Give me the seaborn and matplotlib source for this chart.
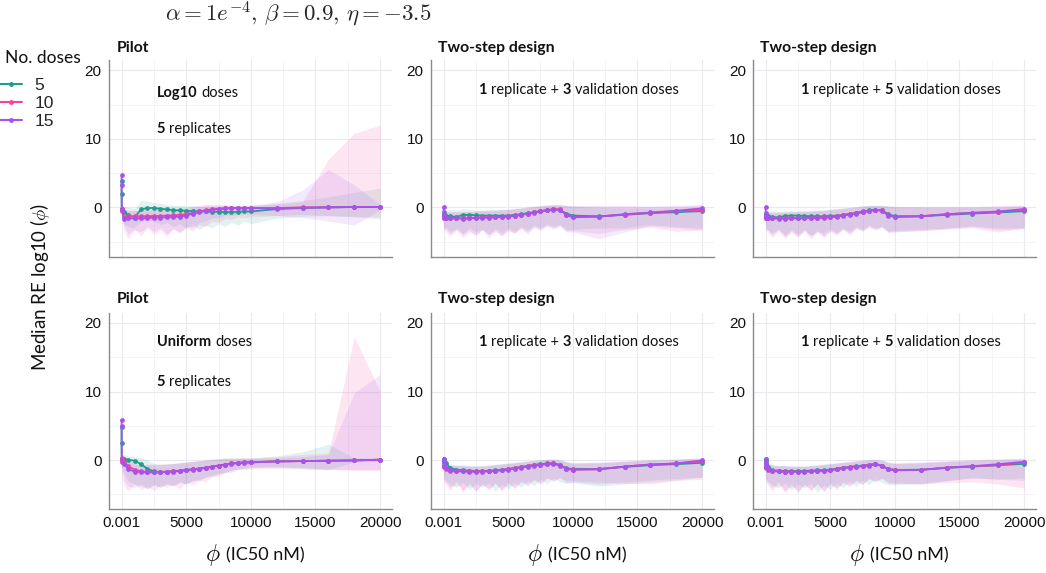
import numpy as np
import pandas as pd
import matplotlib
matplotlib.use("Agg")
import matplotlib.pyplot as plt
from matplotlib.lines import Line2D
import seaborn as sns

# IC50 grid (nM), shared by every panel
phi = [0.001, 0.1, 10, 200, 500, 1000, 1500, 2000, 2500, 3000, 3500, 4000, 4500, 5000, 5500,
       6000, 6500, 7000, 7500, 8000, 8500, 9000, 9500, 10000, 12000, 14000, 16000, 18000, 20000]
doses = ["5", "10", "15"]
colors = ["#1f9e8e", "#f2449a", "#a552ef"]

# ---- Pilot, log10 doses ----
log_pilot_5 = [3.9, 2.0, -0.3, -0.7, -1.1, -1.5, -0.3, -0.1, -0.1, -0.2, -0.3, -0.4, -0.45, -0.5, -0.55,
               -0.6, -0.6, -0.65, -0.65, -0.7, -0.7, -0.65, -0.6, -0.6, -0.25, -0.1, 0.0, 0.05, 0.05]
log_pilot_10 = [-0.3, -0.4, -0.5, -1.4, -1.3, -1.3, -1.3, -1.3, -1.25, -1.25, -1.2, -1.15, -1.1, -1.0, -0.8,
                -0.6, -0.4, -0.3, -0.2, -0.15, -0.1, -0.1, -0.1, -0.1, -0.1, 0.0, 0.0, 0.05, 0.05]
log_pilot_15 = [4.7, 3.3, -0.3, -1.7, -1.6, -1.6, -1.6, -1.55, -1.5, -1.5, -1.45, -1.4, -1.35, -1.2, -0.9,
                -0.7, -0.5, -0.35, -0.25, -0.15, -0.1, -0.1, -0.1, -0.1, -0.15, -0.05, 0.0, 0.05, 0.05]
log_pilot_5_lo = [-0.6, -0.8, -1.5, -2.5, -2.8, -3.0, -2.0, -1.8, -2.0, -2.5, -2.2, -2.8, -2.4, -3.0, -2.5,
                  -3.2, -2.6, -3.0, -2.4, -2.8, -2.2, -2.6, -2.0, -2.4, -1.6, -1.3, -1.2, -1.4, -1.7]
log_pilot_5_hi = [4.5, 2.6, 0.3, 0.2, 0.0, -0.2, 1.0, 0.9, 0.7, 0.6, 0.4, 0.3, 0.3, 0.2, 0.2,
                  0.1, 0.1, 0.1, 0.1, 0.1, 0.1, 0.1, 0.1, 0.2, 0.6, 1.0, 1.5, 2.2, 2.8]
log_pilot_10_lo = [-1.0, -1.0, -1.5, -3.5, -4.6, -3.2, -4.2, -3.0, -4.0, -3.3, -4.3, -3.0, -3.8, -3.0, -3.5,
                   -2.5, -2.8, -2.0, -2.2, -1.6, -1.8, -1.4, -1.5, -1.4, -1.2, -1.0, -1.2, -1.3, -1.4]
log_pilot_10_hi = [0.2, 0.1, 0.0, -0.3, -0.5, -0.4, -0.5, -0.4, -0.4, -0.4, -0.3, -0.3, -0.3, -0.2, 0.0,
                   0.1, 0.3, 0.3, 0.3, 0.3, 0.3, 0.3, 0.3, 0.3, 0.5, 0.8, 7.0, 10.8, 12.0]
log_pilot_15_lo = [2.5, 1.5, -0.8, -3.0, -3.8, -3.3, -3.6, -2.8, -3.5, -3.0, -3.8, -3.2, -3.6, -2.8, -3.0,
                   -2.2, -2.0, -1.5, -1.5, -1.2, -1.2, -1.0, -1.0, -1.0, -1.2, -1.5, -2.0, -2.6, -0.3]
log_pilot_15_hi = [5.0, 3.6, 0.0, -0.4, -0.5, -0.5, -0.4, -0.4, -0.3, -0.3, -0.3, -0.2, -0.2, 0.0, 0.2,
                   0.3, 0.4, 0.4, 0.4, 0.4, 0.3, 0.3, 0.3, 0.3, 0.8, 2.5, 5.5, 3.3, 0.4]

# ---- Two-step, 1 replicate + 3 validation doses (log10 pilot) ----
log_ts3_5 = [-1.0, -1.1, -1.2, -1.2, -1.3, -1.4, -1.1, -1.1, -1.15, -1.2, -1.2, -1.2, -1.2, -1.2, -1.1,
             -1.0, -0.85, -0.7, -0.55, -0.4, -0.3, -0.35, -0.9, -1.2, -1.3, -1.1, -0.85, -0.7, -0.55]
log_ts3_10 = [-1.3, -1.4, -1.5, -1.55, -1.55, -1.6, -1.6, -1.55, -1.5, -1.45, -1.45, -1.4, -1.35, -1.3, -1.2,
              -1.05, -0.9, -0.75, -0.55, -0.4, -0.3, -0.3, -1.05, -1.4, -1.35, -1.05, -0.8, -0.55, -0.4]
log_ts3_15 = [0.1, -0.7, -1.5, -1.6, -1.6, -1.6, -1.65, -1.6, -1.55, -1.5, -1.5, -1.45, -1.4, -1.35, -1.25,
              -1.1, -0.95, -0.8, -0.6, -0.45, -0.35, -0.35, -1.1, -1.45, -1.35, -1.0, -0.75, -0.5, -0.15]
log_ts3_5_lo = [-2.5, -2.8, -3.0, -3.0, -3.5, -3.2, -3.8, -3.0, -3.6, -3.2, -3.9, -3.1, -3.7, -3.0, -3.5,
                -2.8, -3.3, -2.6, -3.0, -2.4, -2.8, -2.5, -3.3, -3.2, -3.0, -3.0, -2.5, -2.8, -3.0]
log_ts3_5_hi = [0.0, -0.2, -0.4, -0.4, -0.3, -0.4, -0.2, -0.3, -0.4, -0.4, -0.4, -0.3, -0.3, -0.3, -0.2,
                -0.1, 0.1, 0.2, 0.3, 0.4, 0.4, 0.4, 0.3, 0.2, 0.0, -0.1, -0.1, -0.1, 0.0]
log_ts3_10_lo = [-2.8, -3.0, -3.2, -3.6, -4.2, -3.4, -4.4, -3.6, -4.0, -3.3, -4.5, -3.5, -4.1, -3.4, -3.8,
                 -3.0, -3.6, -2.8, -3.2, -2.7, -3.0, -2.6, -3.4, -3.4, -3.8, -3.2, -2.9, -3.5, -3.3]
log_ts3_10_hi = [-0.5, -0.6, -0.6, -0.7, -0.7, -0.7, -0.7, -0.6, -0.6, -0.5, -0.5, -0.5, -0.4, -0.3, -0.2,
                 -0.1, 0.0, 0.1, 0.2, 0.3, 0.3, 0.3, 0.2, 0.2, 0.2, 0.2, 0.1, 0.1, 0.3]
log_ts3_15_lo = [-0.2, -2.5, -3.0, -3.2, -3.9, -3.0, -4.0, -3.3, -4.2, -3.2, -4.0, -3.4, -4.2, -3.3, -3.7,
                 -3.1, -3.9, -3.0, -3.4, -2.7, -3.2, -2.8, -3.6, -3.6, -4.6, -3.6, -2.7, -3.0, -3.3]
log_ts3_15_hi = [0.3, -0.4, -0.5, -0.6, -0.6, -0.6, -0.6, -0.6, -0.5, -0.5, -0.4, -0.4, -0.3, -0.3, -0.2,
                 -0.1, 0.0, 0.1, 0.2, 0.3, 0.4, 0.4, 0.3, 0.2, 0.2, 0.2, 0.2, 0.3, 0.4]

# ---- Two-step, 1 replicate + 5 validation doses (log10 pilot) ----
log_ts5_5 = [-1.1, -1.2, -1.3, -1.3, -1.4, -1.45, -1.25, -1.2, -1.2, -1.25, -1.3, -1.3, -1.3, -1.25, -1.2,
             -1.1, -0.95, -0.8, -0.6, -0.45, -0.35, -0.45, -1.0, -1.3, -1.3, -1.1, -0.9, -0.75, -0.55]
log_ts5_10 = [-1.4, -1.5, -1.55, -1.55, -1.55, -1.6, -1.6, -1.55, -1.55, -1.55, -1.5, -1.5, -1.45, -1.4, -1.3,
              -1.15, -1.0, -0.85, -0.65, -0.5, -0.35, -0.45, -1.15, -1.35, -1.3, -1.0, -0.8, -0.65, -0.35]
log_ts5_15 = [0.1, -0.8, -1.6, -1.6, -1.6, -1.65, -1.65, -1.6, -1.6, -1.6, -1.55, -1.55, -1.5, -1.45, -1.35,
              -1.2, -1.05, -0.9, -0.7, -0.55, -0.4, -0.5, -1.2, -1.4, -1.3, -1.0, -0.8, -0.6, -0.25]
log_ts5_5_lo = [-2.6, -2.8, -3.0, -3.3, -3.8, -3.2, -4.0, -3.3, -3.9, -3.2, -4.1, -3.4, -3.8, -3.1, -3.7,
                -3.0, -3.5, -2.8, -3.2, -2.6, -3.0, -2.8, -3.5, -3.4, -3.2, -3.0, -2.7, -3.0, -3.0]
log_ts5_5_hi = [-0.2, -0.4, -0.5, -0.6, -0.5, -0.6, -0.5, -0.5, -0.5, -0.5, -0.5, -0.4, -0.4, -0.3, -0.2,
                -0.1, 0.0, 0.1, 0.2, 0.3, 0.3, 0.3, 0.2, 0.1, 0.0, 0.0, 0.0, 0.0, 0.1]
log_ts5_10_lo = [-2.8, -3.0, -3.3, -3.7, -4.4, -3.5, -4.5, -3.7, -4.2, -3.5, -4.6, -3.6, -4.2, -3.5, -4.0,
                 -3.2, -3.8, -3.0, -3.4, -2.9, -3.2, -2.8, -3.6, -3.5, -3.4, -3.2, -3.0, -3.6, -3.0]
log_ts5_10_hi = [-0.6, -0.7, -0.7, -0.8, -0.8, -0.8, -0.7, -0.7, -0.7, -0.6, -0.6, -0.5, -0.5, -0.4, -0.3,
                 -0.2, -0.1, 0.0, 0.1, 0.2, 0.2, 0.2, 0.1, 0.1, 0.1, 0.1, 0.1, 0.2, 0.3]
log_ts5_15_lo = [-0.3, -2.6, -3.1, -3.4, -4.0, -3.2, -4.3, -3.4, -4.4, -3.3, -4.2, -3.5, -4.4, -3.4, -3.9,
                 -3.2, -4.0, -3.1, -3.5, -2.8, -3.3, -2.9, -3.7, -3.6, -3.4, -3.1, -2.8, -3.3, -3.1]
log_ts5_15_hi = [0.3, -0.5, -0.6, -0.7, -0.7, -0.7, -0.7, -0.6, -0.6, -0.6, -0.5, -0.5, -0.4, -0.3, -0.2,
                 -0.1, 0.0, 0.1, 0.2, 0.3, 0.3, 0.3, 0.2, 0.1, 0.1, 0.1, 0.1, 0.2, 0.3]

# ---- Pilot, uniform doses ----
uni_pilot_5 = [4.8, 2.5, 0.1, 0.1, 0.05, -0.1, -0.6, -1.3, -1.65, -1.75, -1.7, -1.65, -1.55, -1.45, -1.35,
               -1.25, -1.1, -0.95, -0.8, -0.65, -0.5, -0.4, -0.35, -0.3, -0.2, -0.15, -0.1, -0.05, 0.05]
uni_pilot_10 = [0.3, 0.1, 0.0, -0.3, -0.9, -1.4, -1.65, -1.75, -1.75, -1.75, -1.7, -1.65, -1.55, -1.45, -1.35,
                -1.25, -1.1, -0.95, -0.8, -0.65, -0.5, -0.4, -0.35, -0.3, -0.2, -0.15, -0.1, -0.05, 0.05]
uni_pilot_15 = [5.9, 5.0, -0.35, -0.6, -1.3, -1.7, -1.75, -1.8, -1.8, -1.8, -1.75, -1.7, -1.6, -1.5, -1.4,
                -1.3, -1.15, -1.0, -0.85, -0.7, -0.55, -0.45, -0.4, -0.35, -0.2, -0.15, -0.1, -0.05, 0.05]
uni_pilot_5_lo = [3.8, 1.5, -1.0, -2.0, -3.0, -3.5, -3.8, -4.2, -3.6, -4.0, -3.4, -3.8, -3.2, -3.5, -3.0,
                  -3.0, -2.5, -2.4, -2.0, -1.8, -1.5, -1.3, -1.2, -1.0, -1.0, -1.2, -1.4, -0.3, -0.2]
uni_pilot_5_hi = [6.2, 3.5, 0.8, 0.8, 0.6, 0.5, 0.3, 0.0, -0.5, -0.6, -0.6, -0.5, -0.4, -0.3, -0.2,
                  -0.1, 0.0, 0.1, 0.2, 0.3, 0.3, 0.3, 0.3, 0.3, 0.6, 1.2, 2.3, 0.3, 0.3]
uni_pilot_10_lo = [-0.5, -1.0, -2.0, -3.8, -4.5, -3.5, -4.3, -3.8, -4.5, -3.6, -4.0, -3.5, -4.2, -3.2, -3.6,
                   -3.0, -3.2, -2.4, -2.4, -1.8, -1.8, -1.4, -1.4, -1.3, -1.2, -1.3, -1.4, -1.5, -1.5]
uni_pilot_10_hi = [0.8, 0.6, 0.5, 0.5, 0.2, -0.4, -0.6, -0.6, -0.6, -0.6, -0.5, -0.5, -0.4, -0.3, -0.2,
                   -0.1, 0.0, 0.1, 0.2, 0.3, 0.3, 0.3, 0.3, 0.3, 0.5, 0.8, 1.0, 18.0, 10.0]
uni_pilot_15_lo = [4.0, 3.0, -1.0, -3.0, -3.8, -4.0, -3.5, -4.2, -3.6, -4.0, -3.5, -3.8, -3.2, -3.5, -3.0,
                   -2.8, -2.5, -2.2, -2.0, -1.8, -1.5, -1.3, -1.2, -1.1, -1.0, -1.1, -1.3, -1.4, -1.4]
uni_pilot_15_hi = [6.5, 5.5, 0.5, 0.5, 0.0, -0.6, -0.7, -0.7, -0.7, -0.7, -0.6, -0.5, -0.4, -0.3, -0.2,
                   -0.1, 0.0, 0.1, 0.1, 0.2, 0.2, 0.3, 0.3, 0.3, 0.3, 0.5, 0.8, 9.8, 12.5]

# ---- Two-step, 1 replicate + 3 validation doses (uniform pilot) ----
uni_ts3_5 = [0.1, -0.1, -0.3, -0.4, -1.2, -1.4, -1.5, -1.55, -1.6, -1.6, -1.55, -1.5, -1.4, -1.3, -1.15,
             -1.0, -0.85, -0.7, -0.6, -0.5, -0.45, -0.7, -1.2, -1.3, -1.3, -1.0, -0.75, -0.6, -0.4]
uni_ts3_10 = [-0.8, -0.9, -1.0, -1.3, -1.55, -1.6, -1.65, -1.65, -1.65, -1.65, -1.6, -1.55, -1.45, -1.35, -1.2,
              -1.05, -0.9, -0.75, -0.65, -0.55, -0.5, -0.75, -1.25, -1.4, -1.35, -0.95, -0.65, -0.5, -0.2]
uni_ts3_15 = [0.2, -0.4, -0.9, -1.2, -1.5, -1.6, -1.65, -1.7, -1.7, -1.7, -1.65, -1.6, -1.5, -1.4, -1.25,
              -1.1, -0.95, -0.8, -0.7, -0.6, -0.55, -0.8, -1.3, -1.4, -1.35, -0.95, -0.65, -0.5, -0.05]
uni_ts3_5_lo = [-1.5, -2.0, -2.5, -3.0, -3.5, -4.0, -3.2, -4.3, -3.4, -4.0, -3.3, -4.6, -3.5, -4.2, -3.3,
                -4.0, -3.0, -3.8, -2.8, -3.5, -2.6, -3.2, -3.4, -3.3, -3.8, -3.5, -3.2, -2.9, -2.5]
uni_ts3_5_hi = [0.5, 0.3, 0.1, -0.3, -0.6, -0.7, -0.7, -0.8, -0.8, -0.8, -0.7, -0.6, -0.5, -0.4, -0.3,
                -0.2, -0.1, 0.0, 0.1, 0.1, 0.2, 0.1, -0.2, -0.4, -0.4, -0.2, 0.0, 0.1, 0.2]
uni_ts3_10_lo = [-2.5, -2.8, -3.0, -3.6, -4.4, -3.4, -4.6, -3.6, -4.5, -3.5, -4.2, -3.4, -4.4, -3.2, -4.0,
                 -3.0, -3.6, -2.8, -3.4, -2.6, -3.0, -2.5, -3.0, -3.0, -3.2, -3.4, -3.5, -3.0, -2.8]
uni_ts3_10_hi = [0.2, 0.0, -0.3, -0.6, -0.8, -0.8, -0.9, -0.9, -0.9, -0.9, -0.8, -0.7, -0.6, -0.5, -0.4,
                 -0.3, -0.2, -0.1, 0.0, 0.1, 0.1, 0.0, -0.3, -0.5, -0.4, -0.2, 0.0, 0.1, 0.3]
uni_ts3_15_lo = [-0.2, -2.0, -2.8, -3.3, -4.0, -3.0, -4.5, -3.3, -4.6, -3.4, -4.4, -3.3, -4.5, -3.4, -4.2,
                 -3.2, -3.8, -2.9, -3.5, -2.6, -3.1, -2.6, -3.3, -3.2, -3.5, -3.2, -2.9, -2.7, -2.5]
uni_ts3_15_hi = [0.5, 0.2, -0.2, -0.5, -0.7, -0.8, -0.8, -0.9, -0.9, -0.9, -0.8, -0.7, -0.6, -0.5, -0.4,
                 -0.3, -0.2, -0.1, 0.0, 0.1, 0.1, 0.0, -0.3, -0.4, -0.3, -0.1, 0.1, 0.2, 0.3]

# ---- Two-step, 1 replicate + 5 validation doses (uniform pilot) ----
uni_ts5_5 = [0.2, -0.2, -0.6, -1.0, -1.5, -1.55, -1.6, -1.6, -1.6, -1.6, -1.55, -1.5, -1.45, -1.4, -1.25,
             -1.1, -1.0, -0.9, -0.8, -0.7, -0.55, -0.85, -1.3, -1.45, -1.4, -1.15, -0.95, -0.75, -0.55]
uni_ts5_10 = [-0.9, -1.0, -1.1, -1.4, -1.6, -1.65, -1.7, -1.7, -1.7, -1.7, -1.65, -1.6, -1.55, -1.45, -1.3,
              -1.15, -1.05, -0.95, -0.85, -0.75, -0.55, -0.85, -1.3, -1.45, -1.45, -1.1, -0.9, -0.75, -0.35]
uni_ts5_15 = [0.1, -0.5, -1.0, -1.3, -1.6, -1.65, -1.7, -1.7, -1.7, -1.7, -1.65, -1.6, -1.55, -1.5, -1.35,
              -1.2, -1.1, -1.0, -0.9, -0.8, -0.6, -0.9, -1.35, -1.5, -1.45, -1.1, -0.9, -0.6, -0.25]
uni_ts5_5_lo = [-1.6, -2.1, -2.6, -3.1, -3.6, -4.1, -3.3, -4.4, -3.5, -4.1, -3.4, -4.7, -3.6, -4.3, -3.4,
                -4.1, -3.1, -3.9, -2.9, -3.6, -2.7, -3.3, -3.6, -3.6, -3.5, -3.0, -2.6, -2.8, -2.6]
uni_ts5_5_hi = [0.5, 0.3, 0.0, -0.4, -0.7, -0.8, -0.8, -0.9, -0.9, -0.9, -0.8, -0.7, -0.6, -0.5, -0.4,
                -0.3, -0.2, -0.1, 0.0, 0.1, 0.1, 0.0, -0.3, -0.5, -0.4, -0.2, -0.1, 0.0, 0.1]
uni_ts5_10_lo = [-2.6, -2.9, -3.1, -3.7, -4.5, -3.5, -4.7, -3.7, -4.6, -3.6, -4.3, -3.5, -4.5, -3.3, -4.1,
                 -3.1, -3.7, -2.9, -3.5, -2.7, -3.1, -2.6, -3.2, -3.3, -3.5, -3.3, -3.2, -3.5, -4.1]
uni_ts5_10_hi = [0.2, 0.0, -0.3, -0.6, -0.8, -0.9, -0.9, -0.9, -0.9, -0.9, -0.9, -0.8, -0.7, -0.6, -0.5,
                 -0.4, -0.3, -0.2, -0.1, 0.0, 0.0, -0.1, -0.4, -0.5, -0.4, -0.2, 0.0, 0.1, 0.2]
uni_ts5_15_lo = [-0.2, -2.1, -2.9, -3.4, -4.1, -3.1, -4.6, -3.4, -4.7, -3.5, -4.5, -3.4, -4.6, -3.5, -4.3,
                 -3.3, -3.9, -3.0, -3.6, -2.7, -3.2, -2.7, -3.4, -3.4, -3.4, -3.0, -2.6, -2.8, -3.0]
uni_ts5_15_hi = [0.5, 0.2, -0.2, -0.5, -0.7, -0.8, -0.8, -0.9, -0.9, -0.9, -0.8, -0.7, -0.6, -0.5, -0.4,
                 -0.3, -0.2, -0.1, 0.0, 0.1, 0.1, 0.0, -0.3, -0.4, -0.3, -0.1, 0.1, 0.2, 0.3]

xticks = [0.001, 5000, 10000, 15000, 20000]
xtick_labels = ["0.001", "5000", "10000", "15000", "20000"]
yticks = [0, 10, 20]

TS3 = [("1", True), ("replicate +", False), ("3", True), ("validation doses", False)]
TS5 = [("1", True), ("replicate +", False), ("5", True), ("validation doses", False)]

panels = [
    ("Pilot", [("Log10", True), ("doses", False)], (log_pilot_5, log_pilot_10, log_pilot_15),
     (log_pilot_5_lo, log_pilot_10_lo, log_pilot_15_lo), (log_pilot_5_hi, log_pilot_10_hi, log_pilot_15_hi)),
    ("Two-step design", TS3, (log_ts3_5, log_ts3_10, log_ts3_15),
     (log_ts3_5_lo, log_ts3_10_lo, log_ts3_15_lo), (log_ts3_5_hi, log_ts3_10_hi, log_ts3_15_hi)),
    ("Two-step design", TS5, (log_ts5_5, log_ts5_10, log_ts5_15),
     (log_ts5_5_lo, log_ts5_10_lo, log_ts5_15_lo), (log_ts5_5_hi, log_ts5_10_hi, log_ts5_15_hi)),
    ("Pilot", [("Uniform", True), ("doses", False)], (uni_pilot_5, uni_pilot_10, uni_pilot_15),
     (uni_pilot_5_lo, uni_pilot_10_lo, uni_pilot_15_lo), (uni_pilot_5_hi, uni_pilot_10_hi, uni_pilot_15_hi)),
    ("Two-step design", TS3, (uni_ts3_5, uni_ts3_10, uni_ts3_15),
     (uni_ts3_5_lo, uni_ts3_10_lo, uni_ts3_15_lo), (uni_ts3_5_hi, uni_ts3_10_hi, uni_ts3_15_hi)),
    ("Two-step design", TS5, (uni_ts5_5, uni_ts5_10, uni_ts5_15),
     (uni_ts5_5_lo, uni_ts5_10_lo, uni_ts5_15_lo), (uni_ts5_5_hi, uni_ts5_10_hi, uni_ts5_15_hi)),
]

sns.set_theme(style="white")
plt.rcParams["font.family"] = ["Lato", "DejaVu Sans"]
plt.rcParams["mathtext.fontset"] = "cm"

TEXT_FONT = ["Lato", "DejaVu Sans"]
TICK_FONT = ["Liberation Sans", "DejaVu Sans"]
INK = "#111111"


def mixed_text(ax, x, y, parts, size=10.5, gap=3.0):
    # words joined left to right, a space-sized gap between the pieces
    t = None
    for s, bold in parts:
        w = "bold" if bold else "normal"
        if t is None:
            t = ax.text(x, y, s, transform=ax.transAxes, fontsize=size, fontweight=w,
                        family=TEXT_FONT, va="center", ha="left", color=INK)
        else:
            t = ax.annotate(s, xy=(1, 0), xycoords=t, xytext=(gap, 0), textcoords="offset points",
                            va="bottom", ha="left", fontsize=size, fontweight=w,
                            family=TEXT_FONT, color=INK)


fig = plt.figure(figsize=(10.46, 5.73), dpi=100)
lefts = [0.1039, 0.4117, 0.7196]
bottoms = [0.552, 0.111]
w, h = 0.2706, 0.3433

for i, (title, note, meds, los, his) in enumerate(panels):
    row, col = divmod(i, 3)
    ax = fig.add_axes([lefts[col], bottoms[row], w, h])

    # uncertainty bands
    for lo, hi, c in zip(los, his, colors):
        ax.fill_between(phi, lo, hi, color=c, alpha=0.13, linewidth=0)

    df = pd.DataFrame({
        "phi": phi * 3,
        "re": list(meds[0]) + list(meds[1]) + list(meds[2]),
        "dose": sum([[d] * len(phi) for d in doses], []),
    })
    sns.lineplot(data=df, x="phi", y="re", hue="dose", hue_order=doses, palette=colors,
                 marker="o", markersize=3.4, markeredgewidth=0, linewidth=1.3,
                 errorbar=None, sort=True, legend=False, ax=ax)

    ax.set_xlim(-1000, 20900)
    ax.set_ylim(-7.2, 21.5)
    ax.set_xticks(xticks)
    ax.set_xticks([2500, 7500, 12500, 17500], minor=True)
    ax.set_yticks(yticks)
    ax.set_yticks([-5, 5, 15], minor=True)
    ax.grid(True, which="major", color="#e9e9ee", linewidth=0.8)
    ax.grid(True, which="minor", color="#f2f2f5", linewidth=0.6)
    ax.set_axisbelow(True)
    for s in ["top", "right"]:
        ax.spines[s].set_visible(False)
    for s in ["left", "bottom"]:
        ax.spines[s].set_color("#8a8a8a")
        ax.spines[s].set_linewidth(1.0)
    ax.tick_params(which="major", length=3, width=0.7, color="#8a8a8a", pad=2, labelsize=11)
    ax.tick_params(which="minor", length=0)
    ax.set_yticklabels([str(v) for v in yticks], family=TICK_FONT, color=INK)
    ax.set_xlabel("")
    ax.set_ylabel("")
    if row == 1:
        ax.set_xticklabels(xtick_labels, family=TICK_FONT, color=INK)
        lab = ax.text(0.34, -0.232, r"$\phi$", transform=ax.transAxes, fontsize=17,
                      va="center", ha="left", color=INK)
        ax.annotate("(IC50 nM)", xy=(1, 0.5), xycoords=lab, xytext=(4, 0), textcoords="offset points",
                    va="center", ha="left", fontsize=13, family=TEXT_FONT, color=INK)
    else:
        ax.set_xticklabels([])

    ax.text(0.027, 1.06 if row == 0 else 1.072, title, transform=ax.transAxes, fontsize=11.3,
            fontweight="bold", family=TEXT_FONT, va="center", ha="left", color=INK)
    if col == 0:
        mixed_text(ax, 0.17, 0.83 if row == 0 else 0.85, note)
        mixed_text(ax, 0.17, 0.65, [("5", True), ("replicates", False)])
    else:
        mixed_text(ax, 0.167, 0.845 if row == 0 else 0.851, note)

fig.text(0.285, 1 - 20 / 573, r"$\alpha = 1e^{-4},\, \beta = 0.9,\, \eta = -3.5$", fontsize=16.5,
         ha="center", va="baseline")
fig.text(0.038, 0.5, r"Median RE log10 ($\phi$)", rotation=90, fontsize=13.5,
         family=TEXT_FONT, ha="center", va="center", color=INK)

fig.text(0.005, 1 - 58 / 573, "No. doses", fontsize=12.5, family=TEXT_FONT,
         ha="left", va="center", color=INK)
handles = [Line2D([0], [0], color=c, marker="o", markersize=3.5, markeredgewidth=0, linewidth=1.5)
           for c in colors]
leg = fig.legend(handles, doses, loc="upper left", bbox_to_anchor=(-0.012, 0.885),
                 frameon=False, handlelength=1.3, handletextpad=0.7, borderpad=0.2,
                 labelspacing=0.15, prop={"family": TICK_FONT, "size": 12.5})

fig.savefig("out.png", dpi=100)
